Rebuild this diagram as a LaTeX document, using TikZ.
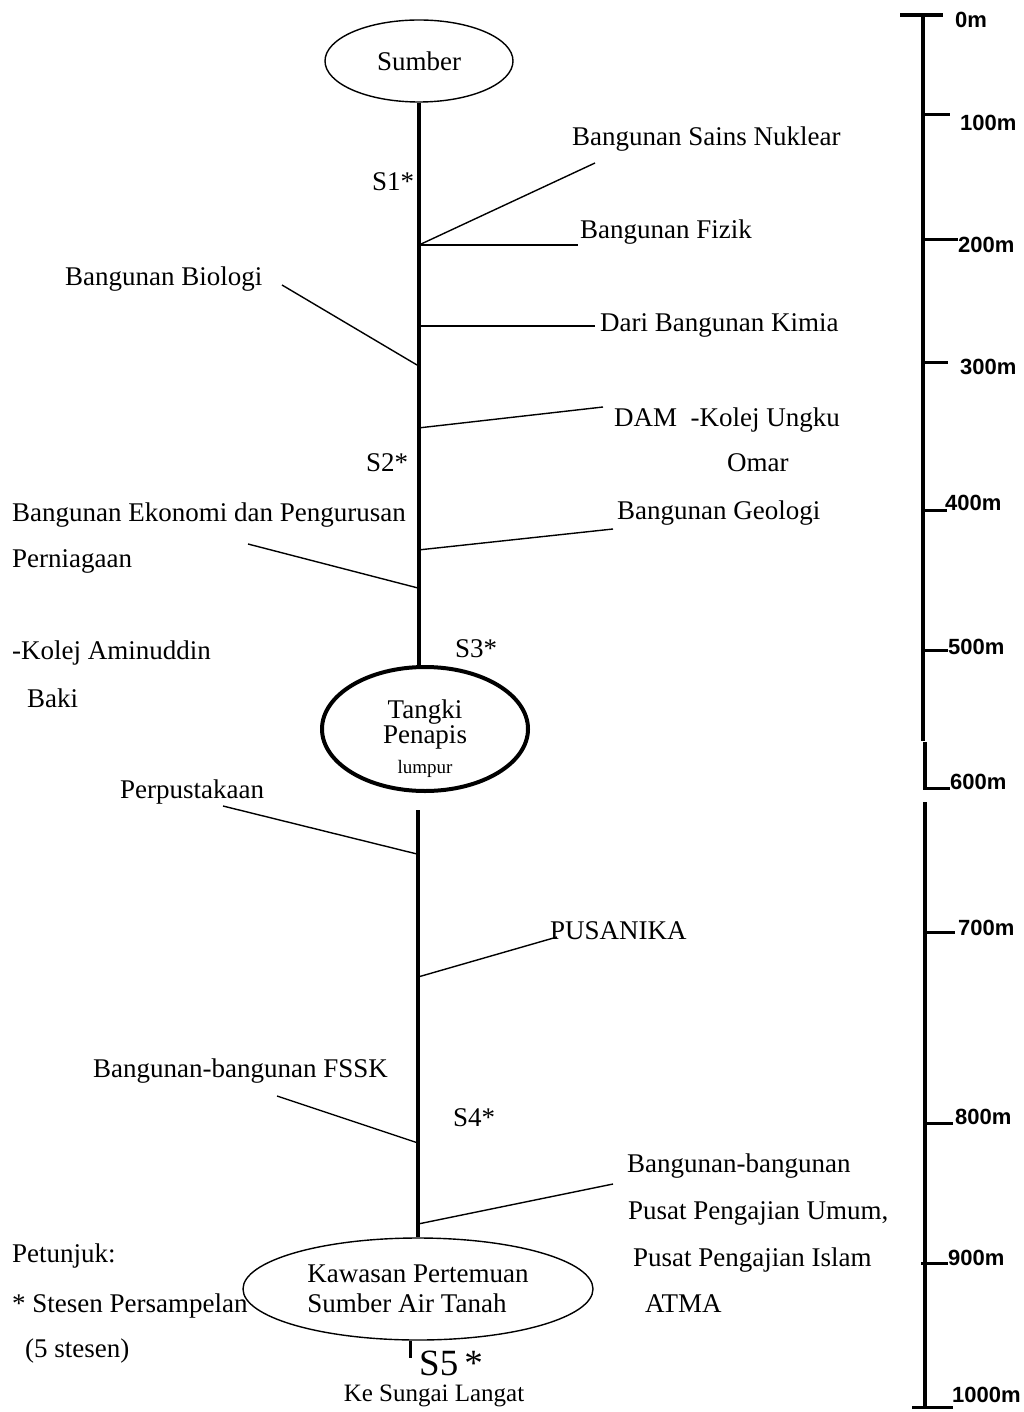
\documentclass[tikz,border=0pt]{standalone}
\usepackage{fontspec}
\setmainfont{Liberation Serif}
\newfontfamily\scalefnt{Liberation Sans}
\usetikzlibrary{shapes.geometric}
\begin{document}
\begin{tikzpicture}[x=1pt,y=-1pt,
  lbl/.style={font=\fontsize{27}{30}\selectfont, inner sep=0pt, anchor=base west},
  branch/.style={line width=1.4pt},
  trunk/.style={line width=4pt},
  sbar/.style={line width=3.5pt},
  tick/.style={line width=3pt},
  scl/.style={font=\scalefnt\bfseries\fontsize{22}{24}\selectfont, inner sep=0pt, anchor=west},
  thinell/.style={draw, ellipse, line width=1.4pt, inner sep=0pt},
]
\useasboundingbox (0,0) rectangle (1024,1412);

% ---- ellipses ----
\node[thinell, minimum width=188pt, minimum height=82pt, font=\fontsize{27}{30}\selectfont] (sumber) at (419,61) {Sumber};
\node[draw, ellipse, line width=4pt, minimum width=206pt, minimum height=124pt, inner sep=0pt] (tangki) at (425,729) {};
\node[inner sep=0pt, align=center, font=\fontsize{27}{25}\selectfont] (tangkitext) at ([yshift=-10pt]tangki.center)
      {Tangki\\Penapis\\[5pt]{\fontsize{19}{20}\selectfont lumpur}};
\node[thinell, minimum width=350pt, minimum height=102pt, align=left,
      font=\fontsize{27}{30}\selectfont] (kawasan) at (418,1289) {Kawasan Pertemuan\\Sumber Air Tanah};

% ---- trunk ----
\draw[trunk] (sumber.south) -- (sumber.south |- tangki.north);
\coordinate (t2) at (418,810);
\draw[trunk] (t2) -- (t2 |- kawasan.north);
\coordinate (s5end) at (410,1358);
\draw[line width=3pt] (s5end |- kawasan.south) -- (s5end);

% ---- branch junctions and ends ----
\coordinate (j1) at (419,245);
\coordinate (e1) at (595,163);
\coordinate (e2) at (578,245);
\coordinate (j3) at (417,365);  \coordinate (e3) at (282,285);
\coordinate (j4) at (418,326);  \coordinate (e4) at (595,326);
\coordinate (j5) at (418,428);  \coordinate (e5) at (603,407);
\coordinate (j6) at (418,550);  \coordinate (e6) at (613,529);
\coordinate (j7) at (418,588);  \coordinate (e7) at (248,544);
\coordinate (j8) at (417,854);  \coordinate (e8) at (223,806);
\coordinate (j9) at (418,977);  \coordinate (e9) at (557,937);
\coordinate (j10) at (418,1143); \coordinate (e10) at (277,1096);
\coordinate (j11) at (418,1224); \coordinate (e11) at (613,1184);

\draw[branch] (j1) -- (e1);
\draw[branch] (j1) -- (e2);
\draw[branch] (j3) -- (e3);
\draw[branch] (j4) -- (e4);
\draw[branch] (j5) -- (e5);
\draw[branch] (j6) -- (e6);
\draw[branch] (j7) -- (e7);
\draw[branch] (j8) -- (e8);
\draw[branch] (j9) -- (e9);
\draw[branch] (j10) -- (e10);
\draw[branch] (j11) -- (e11);

% ---- labels ----
\node[lbl] (l1) at (572,146) {Bangunan Sains Nuklear};
\node[lbl] (l2) at (580,239) {Bangunan Fizik};
\node[lbl] (l3) at (65,286) {Bangunan Biologi};
\node[lbl] (l4) at (600,331) {Dari Bangunan Kimia};
\node[lbl] (l5) at (614,426) {DAM\ \ -Kolej Ungku};
\node[lbl] (l5b) at (727,471) {Omar};
\node[lbl] (l6) at (617,519) {Bangunan Geologi};
\node[lbl] (l7) at (12,521) {Bangunan Ekonomi dan Pengurusan};
\node[lbl] (l7b) at (12,567) {Perniagaan};
\node[lbl] (l7c) at (12,659) {-Kolej Aminuddin};
\node[lbl] (l7d) at (27,707) {Baki};
\node[lbl] (l8) at (120,798) {Perpustakaan};
\node[lbl] (l9) at (550,939) {PUSANIKA};
\node[lbl] (l10) at (93,1077) {Bangunan-bangunan FSSK};
\node[lbl] (l11) at (627,1172) {Bangunan-bangunan};
\node[lbl] (l11b) at (628,1219) {Pusat Pengajian Umum,};
\node[lbl] (l11c) at (633,1266) {Pusat Pengajian Islam};
\node[lbl] (l11d) at (645,1312) {ATMA};

\node[lbl] (s1) at (372,191) {S1*};
\node[lbl] (s2) at (366,471) {S2*};
\node[lbl] (s3) at (455,657) {S3*};
\node[lbl] (s4) at (453,1126) {S4*};
\node[lbl, font=\fontsize{37}{40}\selectfont] (s5) at (419,1375) {S5\,*};
\node[font=\fontsize{25}{28}\selectfont, inner sep=0pt, anchor=base] (sungai) at (434,1401) {Ke Sungai Langat};

\node[lbl] (p1) at (12,1262) {Petunjuk:};
\node[lbl] (p2) at (12,1312) {* Stesen Persampelan};
\node[lbl] (p3) at (25,1357) {(5 stesen)};

% ---- scale bar ----
\draw[sbar] (900,15) -- (943,15);
\draw[sbar] (923,15) -- (923,741);
\draw[sbar] (925,742) -- (925,790);
\draw[sbar] (925,802) -- (925,1407);
\draw[tick] (923,115) -- (950,115);
\draw[tick] (923,240) -- (958,240);
\draw[tick] (923,362) -- (948,362);
\draw[tick] (923,510) -- (947,510);
\draw[tick] (923,650) -- (948,650);
\draw[tick] (925,788) -- (950,788);
\draw[tick] (925,932) -- (955,932);
\draw[tick] (925,1123) -- (953,1123);
\draw[tick] (921,1263) -- (948,1263);
\draw[tick] (912,1407) -- (953,1407);
\node[scl] (m0) at (955,20) {0m};
\node[scl] (m1) at (960,123) {100m};
\node[scl] (m2) at (958,245) {200m};
\node[scl] (m3) at (960,367) {300m};
\node[scl] (m4) at (945,503) {400m};
\node[scl] (m5) at (948,647) {500m};
\node[scl] (m6) at (950,782) {600m};
\node[scl] (m7) at (958,928) {700m};
\node[scl] (m8) at (955,1117) {800m};
\node[scl] (m9) at (948,1258) {900m};
\node[scl] (m10) at (952,1395) {1000m};
\end{tikzpicture}
\end{document}
